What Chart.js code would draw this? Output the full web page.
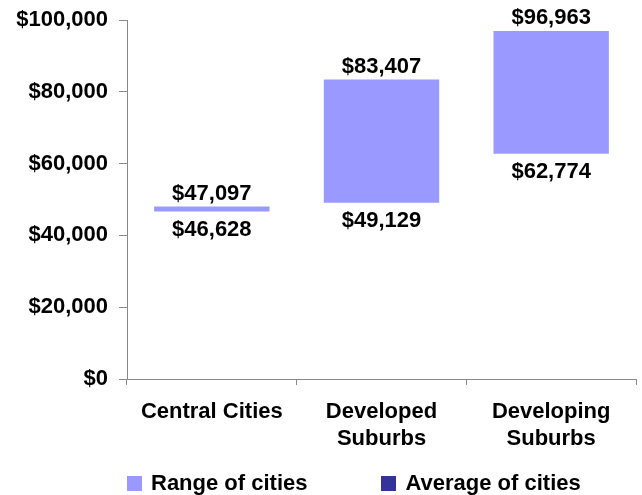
<!DOCTYPE html>
<html>
<head>
<meta charset="utf-8">
<script src="https://cdn.jsdelivr.net/npm/chart.js@4/dist/chart.umd.min.js"></script>
<style>
  html, body { margin: 0; padding: 0; background: #fff; }
  #wrap { position: relative; width: 642px; height: 495px; }
  #legend { position: absolute; left: 127px; top: 472px; display: flex;
            font-family: 'Liberation Sans', Arial, sans-serif; font-size: 22px; font-weight: bold;
            line-height: 22px; color: #000; }
  .item { display: flex; align-items: center; }
  .box { width: 15px; height: 15px; margin-right: 9px; }
</style>
</head>
<body>
<div id="wrap">
  <canvas id="chart" width="642" height="495"></canvas>
  <div id="legend"></div>
</div>
<script>
// categories and values
const categories = ['Central Cities', ['Developed', 'Suburbs'], ['Developing', 'Suburbs']];
const rangeMin = [46628, 49129, 62774];
const rangeMax = [47097, 83407, 96963];
const averages = [];  // average markers not shown in the picture
const yTicks = [0, 20000, 40000, 60000, 80000, 100000];

const RANGE_COLOR = '#9999ff';
const AVG_COLOR = '#333399';
const AXIS_COLOR = '#888888';
const FONT = "'Liberation Sans', Arial, sans-serif";

const money = v => '$' + v.toLocaleString('en-US');

// value labels above and below each floating bar
const rangeLabels = {
    id: 'rangeLabels',
    afterDatasetsDraw(chart) {
        const ctx = chart.ctx;
        const meta = chart.getDatasetMeta(0);
        ctx.save();
        ctx.font = 'bold 22px ' + FONT;
        ctx.fillStyle = '#000';
        ctx.textAlign = 'center';
        ctx.textBaseline = 'alphabetic';
        meta.data.forEach((bar, i) => {
            const top = Math.min(bar.y, bar.base);
            const bottom = Math.max(bar.y, bar.base);
            ctx.fillText(money(rangeMax[i]), bar.x, top - 7);
            ctx.fillText(money(rangeMin[i]), bar.x, bottom + 24);
        });
        ctx.restore();
    }
};

const chart = new Chart(document.getElementById('chart'), {
    type: 'bar',
    data: {
        labels: categories,
        datasets: [{
            label: 'Range of cities',
            data: rangeMin.map((v, i) => [v, rangeMax[i]]),
            backgroundColor: RANGE_COLOR,
            borderWidth: 0,
            minBarLength: 5,
            categoryPercentage: 1,
            barPercentage: 0.68,
        }, {
            label: 'Average of cities',
            data: averages,
            backgroundColor: AVG_COLOR,
        }]
    },
    options: {
        responsive: false,
        animation: false,
        grouped: false,
        layout: { padding: { top: 20, right: 6, left: 0, bottom: 0 } },
        plugins: {
            legend: { display: false },
            tooltip: { enabled: false },
        },
        scales: {
            x: {
                grid: { display: true, drawOnChartArea: false, tickLength: 6, color: AXIS_COLOR, offset: true },
                border: { color: AXIS_COLOR },
                ticks: { color: '#000', padding: 13, maxRotation: 0,
                         font: { family: FONT, size: 22, weight: 'bold', lineHeight: 1.25 } },
                afterFit: s => { s.height = 116; },
            },
            y: {
                min: 0, max: 100000,
                afterBuildTicks: s => { s.ticks = yTicks.map(v => ({ value: v })); },
                grid: { display: true, drawOnChartArea: false, tickLength: 8, color: AXIS_COLOR },
                border: { color: AXIS_COLOR },
                ticks: {
                    color: '#000', padding: 11,
                    font: { family: FONT, size: 22, weight: 'bold' },
                    callback: v => money(v),
                },
                afterFit: s => { s.width = 127; s.paddingTop = 0; s.paddingBottom = 0; },
            }
        }
    },
    plugins: [rangeLabels]
});

// legend built from the datasets
const legend = document.getElementById('legend');
chart.data.datasets.forEach((ds, i) => {
    const item = document.createElement('div');
    item.className = 'item';
    if (i > 0) item.style.marginLeft = '74px';
    item.innerHTML = '<div class="box" style="background:' + ds.backgroundColor + '"></div><span>' + ds.label + '</span>';
    legend.appendChild(item);
});
</script>
</body>
</html>
